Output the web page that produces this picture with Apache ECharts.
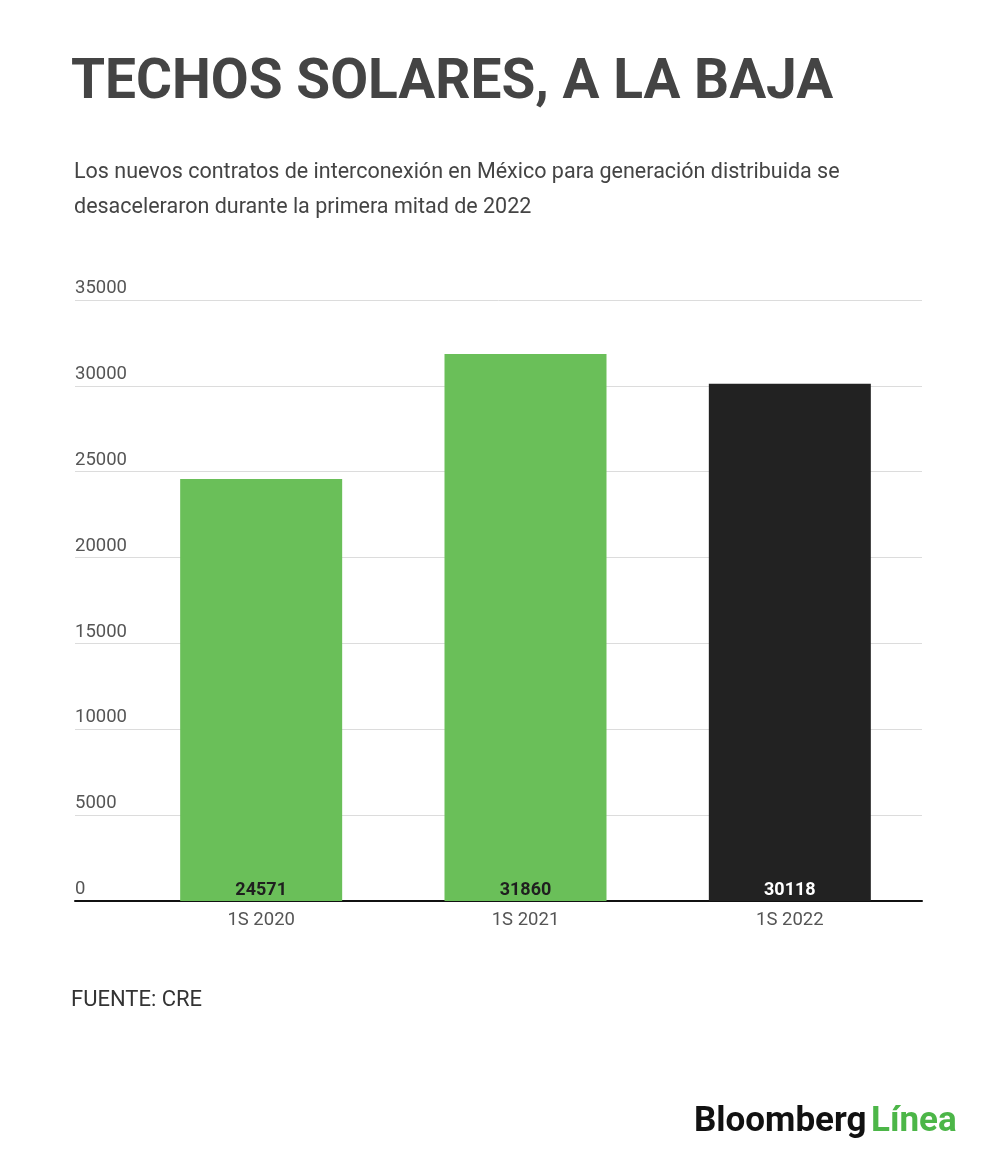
<!DOCTYPE html>
<html>
<head>
<meta charset="utf-8">
<script src="https://cdn.jsdelivr.net/npm/echarts@6/dist/echarts.min.js"></script>
<style>
  html, body { margin: 0; padding: 0; background: #fff; }
  #main { width: 1000px; height: 1164px; }
</style>
</head>
<body>
<div id="main"></div>
<script>
    // datos
    let categories = ['1S 2020', '1S 2021', '1S 2022'];
    let contratos = [24571, 31860, 30118];
    let barColors = ['#6abf59', '#6abf59', '#222222'];
    let labelColors = ['#1f1f1f', '#1f1f1f', '#ffffff'];
    let yTicks = [0, 5000, 10000, 15000, 20000, 25000, 30000, 35000];

    let myChart = echarts.init(document.getElementById('main'));
    let font = 'Roboto';

    let option = {
        backgroundColor: '#fff',
        textStyle: { fontFamily: font },
        title: [
            {
                text: 'TECHOS SOLARES, A LA BAJA',
                left: 66, top: 52,
                textStyle: { fontFamily: font, fontSize: 55, fontWeight: 'bold', color: '#444' }
            },
            {
                text: 'Los nuevos contratos de interconexión en México para generación distribuida se\ndesaceleraron durante la primera mitad de 2022',
                left: 69, top: 150,
                textStyle: { fontFamily: font, fontSize: 21.5, fontWeight: 'normal', color: '#444', lineHeight: 35 }
            },
            {
                text: 'FUENTE: CRE',
                left: 66, top: 984,
                textStyle: { fontFamily: font, fontSize: 22, fontWeight: 'normal', color: '#333' }
            },
            {
                text: '{a|Bloomberg} {b|Línea}',
                left: 689, top: 1100,
                textStyle: {
                    rich: {
                        a: { fontFamily: font, fontSize: 35, fontWeight: 'bold', color: '#111' },
                        b: { fontFamily: font, fontSize: 35, fontWeight: 'bold', color: '#4cb648' }
                    }
                }
            }
        ],
        grid: [
            // rejilla de fondo, de borde a borde
            { left: 75, right: 78, top: 300, bottom: 263 },
            // barras
            { left: 129, right: 78, top: 300, bottom: 263 }
        ],
        xAxis: [
            {
                gridIndex: 0, type: 'value', min: 0, max: 1,
                axisLine: { show: true, onZero: false, lineStyle: { color: '#111', width: 2 } },
                axisTick: { show: false }, axisLabel: { show: false }, splitLine: { show: false }
            },
            {
                gridIndex: 1, type: 'category', data: categories,
                axisLine: { show: false }, axisTick: { show: false },
                axisLabel: { color: '#555', fontSize: 18.5, margin: 10 }
            }
        ],
        yAxis: [
            {
                gridIndex: 0, type: 'value', min: 0, max: 35000, interval: 5000,
                axisLine: { show: false }, axisTick: { show: false },
                axisLabel: {
                    inside: true, color: '#555', fontSize: 18.5, margin: 0,
                    verticalAlign: 'bottom', padding: [0, 0, 2, 0],
                    formatter: function (v) { return yTicks.includes(v) ? String(v) : ''; }
                },
                splitLine: { lineStyle: { color: '#dcdcdc', width: 1 } }
            },
            {
                gridIndex: 1, type: 'value', min: 0, max: 35000, interval: 5000,
                show: false, splitLine: { show: false }
            }
        ],
        series: [
            {
                type: 'bar',
                xAxisIndex: 1, yAxisIndex: 1,
                barWidth: 162,
                data: contratos.map(function (v, i) {
                    return {
                        value: v,
                        itemStyle: { color: barColors[i] },
                        label: { color: labelColors[i] }
                    };
                }),
                label: {
                    show: true, position: 'insideBottom', distance: 2,
                    fontSize: 18, fontWeight: 'bold'
                },
                z: 3
            }
        ]
    };
    myChart.setOption(option);
</script>
</body>
</html>
